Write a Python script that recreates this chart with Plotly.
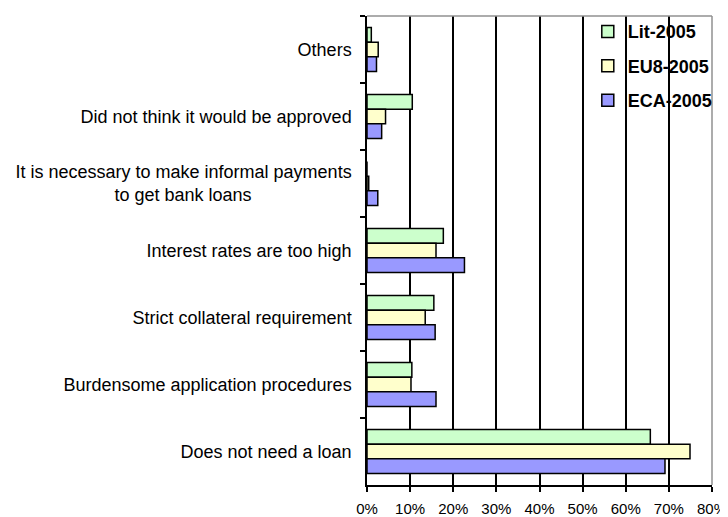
import plotly.graph_objects as go

# categories, top to bottom
categories = [
    "Others",
    "Did not think it would be approved",
    "It is necessary to make informal payments<br>to get bank loans" + "\u00a0" * 20,
    "Interest rates are too high",
    "Strict collateral requirement",
    "Burdensome application procedures",
    "Does not need a loan",
]

lit_2005 = [0.010, 0.105, 0.000, 0.177, 0.155, 0.104, 0.657]
eu8_2005 = [0.026, 0.043, 0.004, 0.160, 0.135, 0.102, 0.749]
eca_2005 = [0.022, 0.034, 0.025, 0.226, 0.158, 0.160, 0.691]

series = [
    ("Lit-2005", lit_2005, "#CCFFCC"),
    ("EU8-2005", eu8_2005, "#FFFFCC"),
    ("ECA-2005", eca_2005, "#9999FF"),
]

font = "Arial, Liberation Sans, sans-serif"

fig = go.Figure()
for name, vals, color in series:
    fig.add_trace(go.Bar(
        y=categories, x=vals, name=name, orientation="h",
        marker=dict(color=color, line=dict(color="black", width=1.5)),
        legendgroup=name,
    ))

# the page body has an 8px margin, so the figure is 8px smaller than the window
fig.update_layout(
    width=720, height=509,
    margin=dict(l=359, r=16, t=5, b=32),
    paper_bgcolor="white", plot_bgcolor="white",
    barmode="group", bargap=0.34, bargroupgap=0,
    font=dict(family=font, color="black", size=18),
    legend=dict(
        x=0.64, y=1.006, xanchor="left", yanchor="top",
        bgcolor="rgba(0,0,0,0)", borderwidth=0,
        font=dict(family=font, size=18, color="black", weight="bold"),
        traceorder="grouped", tracegroupgap=8,
    ),
    showlegend=True,
)

fig.update_xaxes(
    range=[0, 0.8], dtick=0.1, tickformat=".0%",
    showgrid=True, gridcolor="black", gridwidth=1.5,
    showline=True, linecolor="black", linewidth=1.5,
    ticks="outside", ticklen=5, tickwidth=1.5, tickcolor="black",
    tickfont=dict(size=15), ticklabelstandoff=4,
    zeroline=False, fixedrange=True, automargin=False,
)
fig.update_yaxes(
    autorange="reversed", type="category",
    showgrid=False, showline=True, linecolor="black", linewidth=1.5,
    ticks="outside", ticklen=5, tickwidth=1.5, tickcolor="black",
    tickson="boundaries", ticklabelstandoff=10,
    tickfont=dict(size=18),
    fixedrange=True, automargin=False,
)

# white box behind the legend, over the gridlines
fig.add_shape(type="rect", xref="paper", yref="paper", x0=0.66, x1=0.997, y0=0.792, y1=1,
              fillcolor="white", line_width=0, layer="between")
# gray frame on top and right
fig.add_shape(type="line", xref="paper", yref="paper", x0=0, x1=1, y0=1, y1=1,
              line=dict(color="#909090", width=1.5))
fig.add_shape(type="line", xref="paper", yref="paper", x0=1, x1=1, y0=0, y1=1,
              line=dict(color="#909090", width=1.5))

fig.write_html("out.html")
